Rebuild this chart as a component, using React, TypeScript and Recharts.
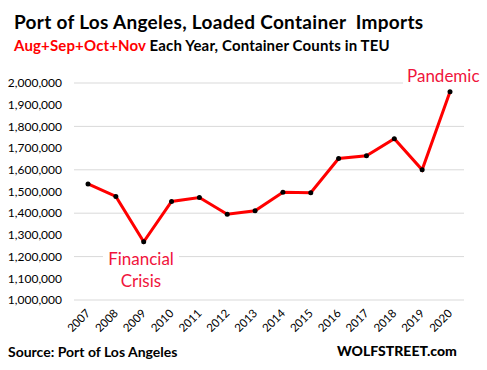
import React from "react";
import { LineChart, Line, XAxis, YAxis, CartesianGrid } from "recharts";

const years = ["2007", "2008", "2009", "2010", "2011", "2012", "2013", "2014", "2015", "2016", "2017", "2018", "2019", "2020"];
const imports = [1535000, 1477000, 1268000, 1454000, 1472000, 1395000, 1411000, 1497000, 1494000, 1652000, 1665000, 1743000, 1600000, 1960000];
const yTicks = [1000000, 1100000, 1200000, 1300000, 1400000, 1500000, 1600000, 1700000, 1800000, 1900000, 2000000];

const data = years.map((year, i) => ({ year, teu: imports[i] }));

const FONT = "Lato, 'Open Sans', sans-serif";

const YearTick = (props: any) => {
  const { x, y, payload } = props;
  return (
    <g transform={`translate(${x + 3},${y + 6})`}>
      <text x={0} y={0} textAnchor="end" transform="rotate(-45)" fontSize={11.5} fontFamily={FONT} fill="#000">
        {payload.value}
      </text>
    </g>
  );
};

const App = () => {
  return (
    <div style={{ position: "absolute", left: 0, top: 0, width: 487, height: 370, background: "#fff", fontFamily: FONT }}>
      <LineChart width={487} height={370} data={data} margin={{ top: 83, right: 23, bottom: 30, left: 0 }}>
        <CartesianGrid vertical={false} stroke="#d9d9d9" />
        <XAxis
          dataKey="year"
          axisLine={false}
          tickLine={false}
          interval={0}
          height={40}
          padding={{ left: 14, right: 14 }}
          tick={<YearTick />}
        />
        <YAxis
          width={74}
          domain={[1000000, 2000000]}
          ticks={yTicks}
          axisLine={false}
          tickLine={false}
          tickMargin={6}
          tick={{ fontSize: 12, fontFamily: FONT, fill: "#000" }}
          tickFormatter={(v: number) => v.toLocaleString("en-US")}
        />
        <Line
          type="linear"
          dataKey="teu"
          stroke="#ff0000"
          strokeWidth={3}
          dot={{ r: 2.5, fill: "#000", stroke: "#000", strokeWidth: 0 }}
          isAnimationActive={false}
        />
      </LineChart>
      <div
        style={{
          position: "absolute",
          left: 14,
          top: 10,
          fontSize: 19,
          letterSpacing: 0.3,
          fontWeight: 700,
          whiteSpace: "nowrap",
          color: "#000",
        }}
      >
        Port of Los Angeles, Loaded Container&nbsp; Imports
      </div>
      <div
        style={{
          position: "absolute",
          left: 14,
          top: 36,
          fontSize: 15,
          letterSpacing: 0.15,
          fontWeight: 700,
          whiteSpace: "nowrap",
          color: "#000",
        }}
      >
        <span style={{ color: "#ff0000" }}>Aug+Sep+Oct+Nov</span> Each Year, Container Counts in TEU
      </div>
      <div
        style={{
          position: "absolute",
          left: 103,
          top: 248,
          width: 76,
          background: "#fff",
          color: "#f0143c",
          fontSize: 17,
          lineHeight: "22px",
          textAlign: "center",
        }}
      >
        Financial
        <br />
        Crisis
      </div>
      <div
        style={{
          position: "absolute",
          left: 403,
          top: 65,
          background: "#fff",
          color: "#f0143c",
          fontSize: 17,
          padding: "0 4px",
        }}
      >
        Pandemic
      </div>
      <div style={{ position: "absolute", left: 8, top: 343, fontSize: 14, fontWeight: 700, color: "#000" }}>
        Source: Port of Los Angeles
      </div>
      <div style={{ position: "absolute", left: 337, top: 342, fontSize: 14, fontWeight: 900, color: "#000" }}>
        WOLFSTREET.com
      </div>
    </div>
  );
};

export default App;
